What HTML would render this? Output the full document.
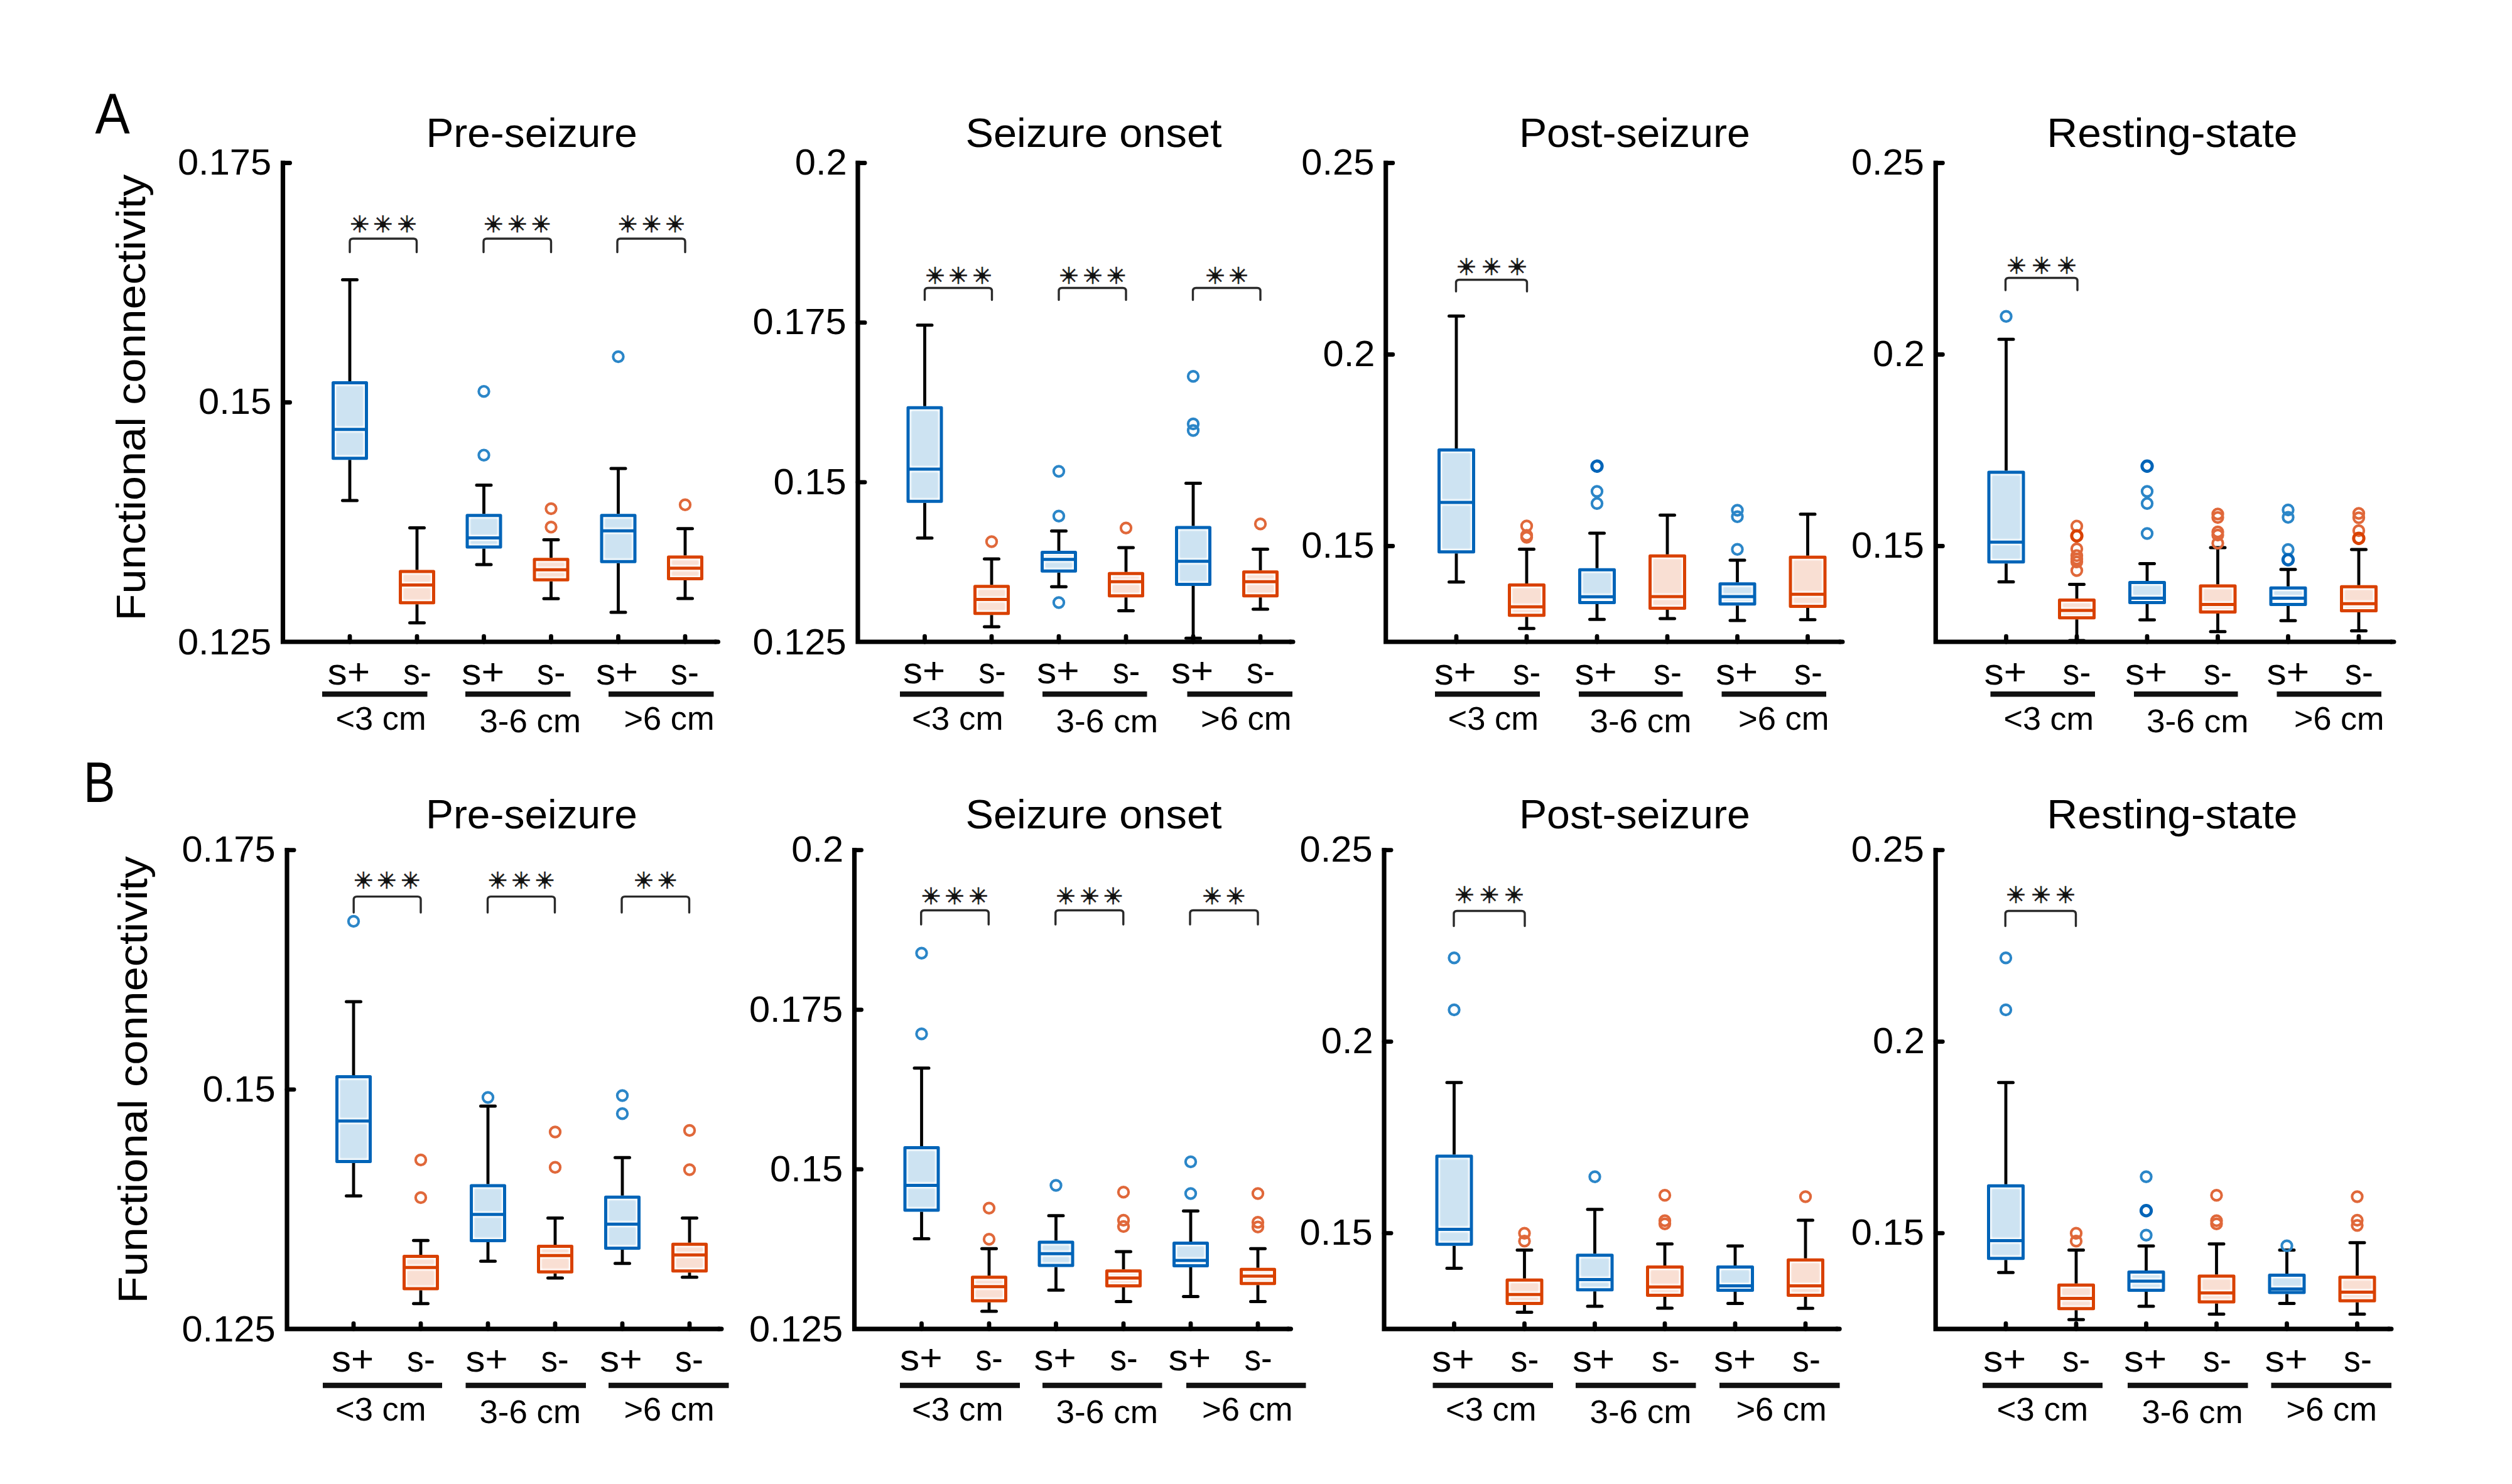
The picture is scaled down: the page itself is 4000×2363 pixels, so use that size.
<!DOCTYPE html>
<html lang="en"><head><meta charset="utf-8"><title>Functional connectivity box plots</title>
<style>
html,body{margin:0;padding:0;background:#fff}
body{width:4000px;height:2363px;overflow:hidden}
svg{display:block}
text{font-family:"Liberation Sans", sans-serif;fill:#000}
.st{font-family:"DejaVu Sans", sans-serif;font-size:37px;fill:#222;stroke:#222;stroke-width:0.7px;text-anchor:middle;dominant-baseline:central}
</style></head><body>
<svg width="4000" height="2363" viewBox="0 0 4000 2363">
<defs><filter id="bl" x="-20%" y="-20%" width="140%" height="140%"><feGaussianBlur stdDeviation="1.3"/></filter></defs>
<rect width="4000" height="2363" fill="#fff"/>
<g id="A1">
<path d="M557 445.5V607M557 732.3V797" stroke="#000" stroke-width="4.8" fill="none"/>
<path d="M545.5 445.5H568.5M545.5 797H568.5" stroke="#000" stroke-width="5" stroke-linecap="round" fill="none"/>
<rect x="530.5" y="609.5" width="53" height="120.3" fill="#fff"/>
<rect x="535.2" y="614.2" width="43.6" height="64.8" rx="2" fill="#cde3f2" filter="url(#bl)"/>
<rect x="535.2" y="688.4" width="43.6" height="36.7" rx="2" fill="#cde3f2" filter="url(#bl)"/>
<rect x="530.5" y="609.5" width="53" height="120.3" fill="none" stroke="#0064b8" stroke-width="5" stroke-linejoin="round"/>
<path d="M530.5 683.7H583.5" stroke="#0064b8" stroke-width="5"/>
<path d="M664 840.5V907.5M664 962.3V991.7" stroke="#000" stroke-width="4.8" fill="none"/>
<path d="M652.5 840.5H675.5M652.5 991.7H675.5" stroke="#000" stroke-width="5" stroke-linecap="round" fill="none"/>
<rect x="637.5" y="910" width="53" height="49.8" fill="#fff"/>
<rect x="642.2" y="914.7" width="43.6" height="12.1" rx="2" fill="#f9dfd3" filter="url(#bl)"/>
<rect x="642.2" y="936.2" width="43.6" height="18.9" rx="2" fill="#f9dfd3" filter="url(#bl)"/>
<rect x="637.5" y="910" width="53" height="49.8" fill="none" stroke="#d94100" stroke-width="5" stroke-linejoin="round"/>
<path d="M637.5 931.5H690.5" stroke="#d94100" stroke-width="5"/>
<path d="M770.5 772.6V818.3M770.5 873.6V899" stroke="#000" stroke-width="4.8" fill="none"/>
<path d="M759 772.6H782M759 899H782" stroke="#000" stroke-width="5" stroke-linecap="round" fill="none"/>
<rect x="744" y="820.8" width="53" height="50.3" fill="#fff"/>
<rect x="748.7" y="825.5" width="43.6" height="26.2" rx="2" fill="#cde3f2" filter="url(#bl)"/>
<rect x="748.7" y="861.1" width="43.6" height="5.3" rx="2" fill="#cde3f2" filter="url(#bl)"/>
<rect x="744" y="820.8" width="53" height="50.3" fill="none" stroke="#0064b8" stroke-width="5" stroke-linejoin="round"/>
<path d="M744 856.4H797" stroke="#0064b8" stroke-width="5"/>
<circle cx="770.5" cy="623.2" r="8.15" fill="none" stroke="#2b86c8" stroke-width="4.1"/>
<circle cx="770.5" cy="724.7" r="8.15" fill="none" stroke="#2b86c8" stroke-width="4.1"/>
<path d="M877.5 859.4V888.2M877.5 925.8V953.2" stroke="#000" stroke-width="4.8" fill="none"/>
<path d="M866 859.4H889M866 953.2H889" stroke="#000" stroke-width="5" stroke-linecap="round" fill="none"/>
<rect x="851" y="890.7" width="53" height="32.6" fill="#fff"/>
<rect x="855.7" y="895.4" width="43.6" height="7.1" rx="2" fill="#f9dfd3" filter="url(#bl)"/>
<rect x="855.7" y="911.9" width="43.6" height="6.7" rx="2" fill="#f9dfd3" filter="url(#bl)"/>
<rect x="851" y="890.7" width="53" height="32.6" fill="none" stroke="#d94100" stroke-width="5" stroke-linejoin="round"/>
<path d="M851 907.2H904" stroke="#d94100" stroke-width="5"/>
<circle cx="877.5" cy="810" r="8.15" fill="none" stroke="#e0683a" stroke-width="4.1"/>
<circle cx="877.5" cy="839.3" r="8.15" fill="none" stroke="#e0683a" stroke-width="4.1"/>
<path d="M984.5 746V818.2M984.5 896.8V975" stroke="#000" stroke-width="4.8" fill="none"/>
<path d="M973 746H996M973 975H996" stroke="#000" stroke-width="5" stroke-linecap="round" fill="none"/>
<rect x="958" y="820.7" width="53" height="73.6" fill="#fff"/>
<rect x="962.7" y="825.4" width="43.6" height="15.1" rx="2" fill="#cde3f2" filter="url(#bl)"/>
<rect x="962.7" y="849.9" width="43.6" height="39.7" rx="2" fill="#cde3f2" filter="url(#bl)"/>
<rect x="958" y="820.7" width="53" height="73.6" fill="none" stroke="#0064b8" stroke-width="5" stroke-linejoin="round"/>
<path d="M958 845.2H1011" stroke="#0064b8" stroke-width="5"/>
<circle cx="984.5" cy="568" r="8.15" fill="none" stroke="#2b86c8" stroke-width="4.1"/>
<path d="M1091 841.7V884.6M1091 924.1V953" stroke="#000" stroke-width="4.8" fill="none"/>
<path d="M1079.5 841.7H1102.5M1079.5 953H1102.5" stroke="#000" stroke-width="5" stroke-linecap="round" fill="none"/>
<rect x="1064.5" y="887.1" width="53" height="34.5" fill="#fff"/>
<rect x="1069.2" y="891.8" width="43.6" height="8.2" rx="2" fill="#f9dfd3" filter="url(#bl)"/>
<rect x="1069.2" y="909.4" width="43.6" height="7.5" rx="2" fill="#f9dfd3" filter="url(#bl)"/>
<rect x="1064.5" y="887.1" width="53" height="34.5" fill="none" stroke="#d94100" stroke-width="5" stroke-linejoin="round"/>
<path d="M1064.5 904.7H1117.5" stroke="#d94100" stroke-width="5"/>
<circle cx="1091" cy="803.8" r="8.15" fill="none" stroke="#e0683a" stroke-width="4.1"/>
<path d="M450.5 255.8V1022H1141" stroke="#000" stroke-width="7.2" fill="none" stroke-linejoin="miter"/>
<path d="M1139 1022H1143.4" stroke="#000" stroke-width="7.2" fill="none" stroke-linecap="round"/>
<path d="M450.5 259.5H461.6M450.5 640.75H461.6" stroke="#000" stroke-width="6.8" stroke-linecap="round" fill="none"/>
<path d="M557 1022V1013.2M664 1022V1013.2M770.5 1022V1013.2M877.5 1022V1013.2M984.5 1022V1013.2M1091 1022V1013.2" stroke="#000" stroke-width="6.8" stroke-linecap="round" fill="none"/>
<text transform="translate(282.92 278.2) scale(1.0430 1)" font-size="57.2">0.175</text>
<text transform="translate(316.09 659.45) scale(1.0430 1)" font-size="57.2">0.15</text>
<text transform="translate(282.92 1041.8) scale(1.0430 1)" font-size="57.2">0.125</text>
<text transform="translate(678.48 233.5) scale(1.0047 1)" font-size="65.5">Pre-seizure</text>
<path d="M557 401.5V385Q557 380 562 380H658.5Q663.5 380 663.5 385V401.5" stroke="#2a2a2a" stroke-width="3.4" fill="none" stroke-linecap="round"/>
<text x="572.7" y="357.5" class="st">✳</text><rect x="568.2" y="353" width="9" height="9" rx="2.5" fill="#111"/>
<text x="609.7" y="357.5" class="st">✳</text><rect x="605.2" y="353" width="9" height="9" rx="2.5" fill="#111"/>
<text x="647.9" y="357.5" class="st">✳</text><rect x="643.4" y="353" width="9" height="9" rx="2.5" fill="#111"/>
<path d="M770 401.5V385Q770 380 775 380H872.5Q877.5 380 877.5 385V401.5" stroke="#2a2a2a" stroke-width="3.4" fill="none" stroke-linecap="round"/>
<text x="785.75" y="357.5" class="st">✳</text><rect x="781.25" y="353" width="9" height="9" rx="2.5" fill="#111"/>
<text x="823.75" y="357.5" class="st">✳</text><rect x="819.25" y="353" width="9" height="9" rx="2.5" fill="#111"/>
<text x="861.5" y="357.5" class="st">✳</text><rect x="857" y="353" width="9" height="9" rx="2.5" fill="#111"/>
<path d="M983 401.5V385Q983 380 988 380H1086Q1091 380 1091 385V401.5" stroke="#2a2a2a" stroke-width="3.4" fill="none" stroke-linecap="round"/>
<text x="999.5" y="357.5" class="st">✳</text><rect x="995" y="353" width="9" height="9" rx="2.5" fill="#111"/>
<text x="1037.5" y="357.5" class="st">✳</text><rect x="1033" y="353" width="9" height="9" rx="2.5" fill="#111"/>
<text x="1075" y="357.5" class="st">✳</text><rect x="1070.5" y="353" width="9" height="9" rx="2.5" fill="#111"/>
<text transform="translate(521.46 1089.5) scale(1.0403 1)" font-size="60">s+</text>
<text transform="translate(642.11 1089.5) scale(0.8936 1)" font-size="60">s-</text>
<text transform="translate(734.95 1089.5) scale(1.0484 1)" font-size="60">s+</text>
<text transform="translate(855.1 1089.5) scale(0.9043 1)" font-size="60">s-</text>
<text transform="translate(948.97 1089.5) scale(1.0323 1)" font-size="60">s+</text>
<text transform="translate(1068.11 1089.5) scale(0.8936 1)" font-size="60">s-</text>
<path d="M513 1105.3H680.5M741 1105.3H908.5M969 1105.3H1136.5" stroke="#111" stroke-width="8.6" fill="none"/>
<text transform="translate(534.45 1162) scale(1.0271 1)" font-size="51">&lt;3 cm</text>
<text transform="translate(763.46 1165.5) scale(1.0369 1)" font-size="51">3-6 cm</text>
<text transform="translate(993.45 1162) scale(1.0271 1)" font-size="51">&gt;6 cm</text>
</g>
<g id="A2">
<path d="M1472.5 517.7V646.7M1472.5 800.75V856.75" stroke="#000" stroke-width="4.8" fill="none"/>
<path d="M1461 517.7H1484M1461 856.75H1484" stroke="#000" stroke-width="5" stroke-linecap="round" fill="none"/>
<rect x="1446" y="649.2" width="53" height="149.05" fill="#fff"/>
<rect x="1450.7" y="653.9" width="43.6" height="88.4" rx="2" fill="#cde3f2" filter="url(#bl)"/>
<rect x="1450.7" y="751.7" width="43.6" height="41.85" rx="2" fill="#cde3f2" filter="url(#bl)"/>
<rect x="1446" y="649.2" width="53" height="149.05" fill="none" stroke="#0064b8" stroke-width="5" stroke-linejoin="round"/>
<path d="M1446 747H1499" stroke="#0064b8" stroke-width="5"/>
<path d="M1579 890V931.25M1579 979.25V998" stroke="#000" stroke-width="4.8" fill="none"/>
<path d="M1567.5 890H1590.5M1567.5 998H1590.5" stroke="#000" stroke-width="5" stroke-linecap="round" fill="none"/>
<rect x="1552.5" y="933.75" width="53" height="43" fill="#fff"/>
<rect x="1557.2" y="938.45" width="43.6" height="11.35" rx="2" fill="#f9dfd3" filter="url(#bl)"/>
<rect x="1557.2" y="959.2" width="43.6" height="12.85" rx="2" fill="#f9dfd3" filter="url(#bl)"/>
<rect x="1552.5" y="933.75" width="53" height="43" fill="none" stroke="#d94100" stroke-width="5" stroke-linejoin="round"/>
<path d="M1552.5 954.5H1605.5" stroke="#d94100" stroke-width="5"/>
<circle cx="1579" cy="862.5" r="8.15" fill="none" stroke="#e0683a" stroke-width="4.1"/>
<path d="M1686 845.5V877M1686 911.75V934.25" stroke="#000" stroke-width="4.8" fill="none"/>
<path d="M1674.5 845.5H1697.5M1674.5 934.25H1697.5" stroke="#000" stroke-width="5" stroke-linecap="round" fill="none"/>
<rect x="1659.5" y="879.5" width="53" height="29.75" fill="#fff"/>
<rect x="1664.2" y="884.2" width="43.6" height="1.85" rx="2" fill="#cde3f2" filter="url(#bl)"/>
<rect x="1664.2" y="895.45" width="43.6" height="9.1" rx="2" fill="#cde3f2" filter="url(#bl)"/>
<rect x="1659.5" y="879.5" width="53" height="29.75" fill="none" stroke="#0064b8" stroke-width="5" stroke-linejoin="round"/>
<path d="M1659.5 890.75H1712.5" stroke="#0064b8" stroke-width="5"/>
<circle cx="1686" cy="750.5" r="8.15" fill="none" stroke="#2b86c8" stroke-width="4.1"/>
<circle cx="1686" cy="821.75" r="8.15" fill="none" stroke="#2b86c8" stroke-width="4.1"/>
<circle cx="1686" cy="959.5" r="8.15" fill="none" stroke="#2b86c8" stroke-width="4.1"/>
<path d="M1793 872V910.75M1793 951.25V972.5" stroke="#000" stroke-width="4.8" fill="none"/>
<path d="M1781.5 872H1804.5M1781.5 972.5H1804.5" stroke="#000" stroke-width="5" stroke-linecap="round" fill="none"/>
<rect x="1766.5" y="913.25" width="53" height="35.5" fill="#fff"/>
<rect x="1771.2" y="917.95" width="43.6" height="3.6" rx="2" fill="#f9dfd3" filter="url(#bl)"/>
<rect x="1771.2" y="930.95" width="43.6" height="13.1" rx="2" fill="#f9dfd3" filter="url(#bl)"/>
<rect x="1766.5" y="913.25" width="53" height="35.5" fill="none" stroke="#d94100" stroke-width="5" stroke-linejoin="round"/>
<path d="M1766.5 926.25H1819.5" stroke="#d94100" stroke-width="5"/>
<circle cx="1793" cy="840.75" r="8.15" fill="none" stroke="#e0683a" stroke-width="4.1"/>
<path d="M1900 769.5V837.5M1900 933V1016.25" stroke="#000" stroke-width="4.8" fill="none"/>
<path d="M1888.5 769.5H1911.5M1888.5 1016.25H1911.5" stroke="#000" stroke-width="5" stroke-linecap="round" fill="none"/>
<rect x="1873.5" y="840" width="53" height="90.5" fill="#fff"/>
<rect x="1878.2" y="844.7" width="43.6" height="44.35" rx="2" fill="#cde3f2" filter="url(#bl)"/>
<rect x="1878.2" y="898.45" width="43.6" height="27.35" rx="2" fill="#cde3f2" filter="url(#bl)"/>
<rect x="1873.5" y="840" width="53" height="90.5" fill="none" stroke="#0064b8" stroke-width="5" stroke-linejoin="round"/>
<path d="M1873.5 893.75H1926.5" stroke="#0064b8" stroke-width="5"/>
<circle cx="1900" cy="599.25" r="8.15" fill="none" stroke="#2b86c8" stroke-width="4.1"/>
<circle cx="1900" cy="675" r="8.15" fill="none" stroke="#2b86c8" stroke-width="4.1"/>
<circle cx="1900" cy="685.5" r="8.15" fill="none" stroke="#2b86c8" stroke-width="4.1"/>
<path d="M2007 874.5V908.25M2007 951.25V970" stroke="#000" stroke-width="4.8" fill="none"/>
<path d="M1995.5 874.5H2018.5M1995.5 970H2018.5" stroke="#000" stroke-width="5" stroke-linecap="round" fill="none"/>
<rect x="1980.5" y="910.75" width="53" height="38" fill="#fff"/>
<rect x="1985.2" y="915.45" width="43.6" height="6.1" rx="2" fill="#f9dfd3" filter="url(#bl)"/>
<rect x="1985.2" y="930.95" width="43.6" height="13.1" rx="2" fill="#f9dfd3" filter="url(#bl)"/>
<rect x="1980.5" y="910.75" width="53" height="38" fill="none" stroke="#d94100" stroke-width="5" stroke-linejoin="round"/>
<path d="M1980.5 926.25H2033.5" stroke="#d94100" stroke-width="5"/>
<circle cx="2007" cy="834.25" r="8.15" fill="none" stroke="#e0683a" stroke-width="4.1"/>
<path d="M1366 255.8V1022H2056.5" stroke="#000" stroke-width="7.2" fill="none" stroke-linejoin="miter"/>
<path d="M2054.5 1022H2058.9" stroke="#000" stroke-width="7.2" fill="none" stroke-linecap="round"/>
<path d="M1366 259.5H1377.1M1366 513.7H1377.1M1366 767.8H1377.1" stroke="#000" stroke-width="6.8" stroke-linecap="round" fill="none"/>
<path d="M1472.5 1022V1013.2M1579 1022V1013.2M1686 1022V1013.2M1793 1022V1013.2M1900 1022V1013.2M2007 1022V1013.2" stroke="#000" stroke-width="6.8" stroke-linecap="round" fill="none"/>
<text transform="translate(1265.81 278.2) scale(1.0430 1)" font-size="57.2">0.2</text>
<text transform="translate(1198.42 532.4) scale(1.0430 1)" font-size="57.2">0.175</text>
<text transform="translate(1231.59 786.5) scale(1.0430 1)" font-size="57.2">0.15</text>
<text transform="translate(1198.42 1041.8) scale(1.0430 1)" font-size="57.2">0.125</text>
<text transform="translate(1537.46 233.5) scale(1.0193 1)" font-size="65.5">Seizure onset</text>
<path d="M1472.5 477.5V463.5Q1472.5 458.5 1477.5 458.5H1574.5Q1579.5 458.5 1579.5 463.5V477.5" stroke="#2a2a2a" stroke-width="3.4" fill="none" stroke-linecap="round"/>
<text x="1489" y="439" class="st">✳</text><rect x="1484.5" y="434.5" width="9" height="9" rx="2.5" fill="#111"/>
<text x="1526" y="439" class="st">✳</text><rect x="1521.5" y="434.5" width="9" height="9" rx="2.5" fill="#111"/>
<text x="1564" y="439" class="st">✳</text><rect x="1559.5" y="434.5" width="9" height="9" rx="2.5" fill="#111"/>
<path d="M1686 477.5V463.5Q1686 458.5 1691 458.5H1788Q1793 458.5 1793 463.5V477.5" stroke="#2a2a2a" stroke-width="3.4" fill="none" stroke-linecap="round"/>
<text x="1702" y="439" class="st">✳</text><rect x="1697.5" y="434.5" width="9" height="9" rx="2.5" fill="#111"/>
<text x="1740" y="439" class="st">✳</text><rect x="1735.5" y="434.5" width="9" height="9" rx="2.5" fill="#111"/>
<text x="1777.5" y="439" class="st">✳</text><rect x="1773" y="434.5" width="9" height="9" rx="2.5" fill="#111"/>
<path d="M1899.5 477.5V463.5Q1899.5 458.5 1904.5 458.5H2002Q2007 458.5 2007 463.5V477.5" stroke="#2a2a2a" stroke-width="3.4" fill="none" stroke-linecap="round"/>
<text x="1935" y="439" class="st">✳</text><rect x="1930.5" y="434.5" width="9" height="9" rx="2.5" fill="#111"/>
<text x="1972" y="439" class="st">✳</text><rect x="1967.5" y="434.5" width="9" height="9" rx="2.5" fill="#111"/>
<text transform="translate(1437.97 1087.8) scale(1.0323 1)" font-size="60">s+</text>
<text transform="translate(1558.13 1087.8) scale(0.8723 1)" font-size="60">s-</text>
<text transform="translate(1650.96 1087.8) scale(1.0403 1)" font-size="60">s+</text>
<text transform="translate(1771.63 1087.8) scale(0.8723 1)" font-size="60">s-</text>
<text transform="translate(1864.97 1087.8) scale(1.0323 1)" font-size="60">s+</text>
<text transform="translate(1985.11 1087.8) scale(0.8936 1)" font-size="60">s-</text>
<path d="M1433 1105.3H1598.5M1660 1105.3H1826.5M1890.5 1105.3H2058" stroke="#111" stroke-width="8.6" fill="none"/>
<text transform="translate(1451.92 1162) scale(1.0382 1)" font-size="51">&lt;3 cm</text>
<text transform="translate(1681.46 1165.5) scale(1.0434 1)" font-size="51">3-6 cm</text>
<text transform="translate(1911.94 1162) scale(1.0308 1)" font-size="51">&gt;6 cm</text>
</g>
<g id="A3">
<path d="M2319 503.2V713.9M2319 881.2V926.75" stroke="#000" stroke-width="4.8" fill="none"/>
<path d="M2307.5 503.2H2330.5M2307.5 926.75H2330.5" stroke="#000" stroke-width="5" stroke-linecap="round" fill="none"/>
<rect x="2291.5" y="716.4" width="55" height="162.3" fill="#fff"/>
<rect x="2296.2" y="721.1" width="45.6" height="74.2" rx="2" fill="#cde3f2" filter="url(#bl)"/>
<rect x="2296.2" y="804.7" width="45.6" height="69.3" rx="2" fill="#cde3f2" filter="url(#bl)"/>
<rect x="2291.5" y="716.4" width="55" height="162.3" fill="none" stroke="#0064b8" stroke-width="5" stroke-linejoin="round"/>
<path d="M2291.5 800H2346.5" stroke="#0064b8" stroke-width="5"/>
<path d="M2431 874.5V929M2431 982.3V1000.7" stroke="#000" stroke-width="4.8" fill="none"/>
<path d="M2419.5 874.5H2442.5M2419.5 1000.7H2442.5" stroke="#000" stroke-width="5" stroke-linecap="round" fill="none"/>
<rect x="2403.5" y="931.5" width="55" height="48.3" fill="#fff"/>
<rect x="2408.2" y="936.2" width="45.6" height="25.4" rx="2" fill="#f9dfd3" filter="url(#bl)"/>
<rect x="2408.2" y="971" width="45.6" height="4.1" rx="2" fill="#f9dfd3" filter="url(#bl)"/>
<rect x="2403.5" y="931.5" width="55" height="48.3" fill="none" stroke="#d94100" stroke-width="5" stroke-linejoin="round"/>
<path d="M2403.5 966.3H2458.5" stroke="#d94100" stroke-width="5"/>
<circle cx="2431" cy="837.5" r="8.15" fill="none" stroke="#e0683a" stroke-width="4.1"/>
<circle cx="2431" cy="852.5" r="8.15" fill="none" stroke="#e0683a" stroke-width="4.1"/>
<circle cx="2431" cy="855.5" r="8.15" fill="none" stroke="#e0683a" stroke-width="4.1"/>
<path d="M2543 849V904.8M2543 962V986.2" stroke="#000" stroke-width="4.8" fill="none"/>
<path d="M2531.5 849H2554.5M2531.5 986.2H2554.5" stroke="#000" stroke-width="5" stroke-linecap="round" fill="none"/>
<rect x="2515.5" y="907.3" width="55" height="52.2" fill="#fff"/>
<rect x="2520.2" y="912" width="45.6" height="33.5" rx="2" fill="#cde3f2" filter="url(#bl)"/>
<rect x="2515.5" y="907.3" width="55" height="52.2" fill="none" stroke="#0064b8" stroke-width="5" stroke-linejoin="round"/>
<path d="M2515.5 950.2H2570.5" stroke="#0064b8" stroke-width="5"/>
<circle cx="2543" cy="742.25" r="8.15" fill="none" stroke="#0064b8" stroke-width="5"/>
<circle cx="2543" cy="782.5" r="8.15" fill="none" stroke="#2b86c8" stroke-width="4.1"/>
<circle cx="2543" cy="801.7" r="8.15" fill="none" stroke="#2b86c8" stroke-width="4.1"/>
<path d="M2655 820.2V882.8M2655 971V985" stroke="#000" stroke-width="4.8" fill="none"/>
<path d="M2643.5 820.2H2666.5M2643.5 985H2666.5" stroke="#000" stroke-width="5" stroke-linecap="round" fill="none"/>
<rect x="2627.5" y="885.3" width="55" height="83.2" fill="#fff"/>
<rect x="2632.2" y="890" width="45.6" height="55.3" rx="2" fill="#f9dfd3" filter="url(#bl)"/>
<rect x="2632.2" y="954.7" width="45.6" height="9.1" rx="2" fill="#f9dfd3" filter="url(#bl)"/>
<rect x="2627.5" y="885.3" width="55" height="83.2" fill="none" stroke="#d94100" stroke-width="5" stroke-linejoin="round"/>
<path d="M2627.5 950H2682.5" stroke="#d94100" stroke-width="5"/>
<path d="M2766.5 892V927.3M2766.5 964.3V988" stroke="#000" stroke-width="4.8" fill="none"/>
<path d="M2755 892H2778M2755 988H2778" stroke="#000" stroke-width="5" stroke-linecap="round" fill="none"/>
<rect x="2739" y="929.8" width="55" height="32" fill="#fff"/>
<rect x="2743.7" y="934.5" width="45.6" height="10.8" rx="2" fill="#cde3f2" filter="url(#bl)"/>
<rect x="2743.7" y="954.7" width="45.6" height="2.4" rx="2" fill="#cde3f2" filter="url(#bl)"/>
<rect x="2739" y="929.8" width="55" height="32" fill="none" stroke="#0064b8" stroke-width="5" stroke-linejoin="round"/>
<path d="M2739 950H2794" stroke="#0064b8" stroke-width="5"/>
<circle cx="2766.5" cy="812.5" r="8.15" fill="none" stroke="#2b86c8" stroke-width="4.1"/>
<circle cx="2766.5" cy="822.8" r="8.15" fill="none" stroke="#2b86c8" stroke-width="4.1"/>
<circle cx="2766.5" cy="874.8" r="8.15" fill="none" stroke="#2b86c8" stroke-width="4.1"/>
<path d="M2878.5 818.8V884.7M2878.5 968V986.7" stroke="#000" stroke-width="4.8" fill="none"/>
<path d="M2867 818.8H2890M2867 986.7H2890" stroke="#000" stroke-width="5" stroke-linecap="round" fill="none"/>
<rect x="2851" y="887.2" width="55" height="78.3" fill="#fff"/>
<rect x="2855.7" y="891.9" width="45.6" height="49.6" rx="2" fill="#f9dfd3" filter="url(#bl)"/>
<rect x="2855.7" y="950.9" width="45.6" height="9.9" rx="2" fill="#f9dfd3" filter="url(#bl)"/>
<rect x="2851" y="887.2" width="55" height="78.3" fill="none" stroke="#d94100" stroke-width="5" stroke-linejoin="round"/>
<path d="M2851 946.2H2906" stroke="#d94100" stroke-width="5"/>
<path d="M2206.7 255.8V1022H2931.5" stroke="#000" stroke-width="7.2" fill="none" stroke-linejoin="miter"/>
<path d="M2929.5 1022H2933.9" stroke="#000" stroke-width="7.2" fill="none" stroke-linecap="round"/>
<path d="M2206.7 259.5H2217.8M2206.7 564.5H2217.8M2206.7 869.5H2217.8" stroke="#000" stroke-width="6.8" stroke-linecap="round" fill="none"/>
<path d="M2319 1022V1013.2M2431 1022V1013.2M2543 1022V1013.2M2655 1022V1013.2M2766.5 1022V1013.2M2878.5 1022V1013.2" stroke="#000" stroke-width="6.8" stroke-linecap="round" fill="none"/>
<text transform="translate(2072.29 278.2) scale(1.0430 1)" font-size="57.2">0.25</text>
<text transform="translate(2106.51 583.2) scale(1.0430 1)" font-size="57.2">0.2</text>
<text transform="translate(2072.29 888.2) scale(1.0430 1)" font-size="57.2">0.15</text>
<text transform="translate(2418.95 233.5) scale(1.0109 1)" font-size="65.5">Post-seizure</text>
<path d="M2318.5 464V450.5Q2318.5 445.5 2323.5 445.5H2426.5Q2431.5 445.5 2431.5 450.5V464" stroke="#2a2a2a" stroke-width="3.4" fill="none" stroke-linecap="round"/>
<text x="2335" y="425" class="st">✳</text><rect x="2330.5" y="420.5" width="9" height="9" rx="2.5" fill="#111"/>
<text x="2375" y="425" class="st">✳</text><rect x="2370.5" y="420.5" width="9" height="9" rx="2.5" fill="#111"/>
<text x="2416" y="425" class="st">✳</text><rect x="2411.5" y="420.5" width="9" height="9" rx="2.5" fill="#111"/>
<text transform="translate(2283.98 1089.5) scale(1.0242 1)" font-size="60">s+</text>
<text transform="translate(2409.12 1089.5) scale(0.8830 1)" font-size="60">s-</text>
<text transform="translate(2507.47 1089.5) scale(1.0323 1)" font-size="60">s+</text>
<text transform="translate(2633.11 1089.5) scale(0.8936 1)" font-size="60">s-</text>
<text transform="translate(2731.97 1089.5) scale(1.0323 1)" font-size="60">s+</text>
<text transform="translate(2857.11 1089.5) scale(0.8936 1)" font-size="60">s-</text>
<path d="M2285 1105.3H2452M2514 1105.3H2679.5M2741.5 1105.3H2908" stroke="#111" stroke-width="8.6" fill="none"/>
<text transform="translate(2305.44 1162) scale(1.0308 1)" font-size="51">&lt;3 cm</text>
<text transform="translate(2531.46 1165.5) scale(1.0402 1)" font-size="51">3-6 cm</text>
<text transform="translate(2767.94 1162) scale(1.0308 1)" font-size="51">&gt;6 cm</text>
</g>
<g id="A4">
<path d="M3194.5 540.3V749.6M3194.5 897.2V926.5" stroke="#000" stroke-width="4.8" fill="none"/>
<path d="M3183 540.3H3206M3183 926.5H3206" stroke="#000" stroke-width="5" stroke-linecap="round" fill="none"/>
<rect x="3167" y="752.1" width="55" height="142.6" fill="#fff"/>
<rect x="3171.7" y="756.8" width="45.6" height="101.8" rx="2" fill="#cde3f2" filter="url(#bl)"/>
<rect x="3171.7" y="868" width="45.6" height="22" rx="2" fill="#cde3f2" filter="url(#bl)"/>
<rect x="3167" y="752.1" width="55" height="142.6" fill="none" stroke="#0064b8" stroke-width="5" stroke-linejoin="round"/>
<path d="M3167 863.3H3222" stroke="#0064b8" stroke-width="5"/>
<circle cx="3194.5" cy="503.8" r="8.15" fill="none" stroke="#2b86c8" stroke-width="4.1"/>
<path d="M3307 930.5V953M3307 986.2V1020" stroke="#000" stroke-width="4.8" fill="none"/>
<path d="M3295.5 930.5H3318.5M3295.5 1020H3318.5" stroke="#000" stroke-width="5" stroke-linecap="round" fill="none"/>
<rect x="3279.5" y="955.5" width="55" height="28.2" fill="#fff"/>
<rect x="3284.2" y="960.2" width="45.6" height="7.1" rx="2" fill="#f9dfd3" filter="url(#bl)"/>
<rect x="3284.2" y="976.7" width="45.6" height="2.3" rx="2" fill="#f9dfd3" filter="url(#bl)"/>
<rect x="3279.5" y="955.5" width="55" height="28.2" fill="none" stroke="#d94100" stroke-width="5" stroke-linejoin="round"/>
<path d="M3279.5 972H3334.5" stroke="#d94100" stroke-width="5"/>
<circle cx="3307" cy="837.7" r="8.15" fill="none" stroke="#e0683a" stroke-width="4.1"/>
<circle cx="3307" cy="853.25" r="8.15" fill="none" stroke="#d94100" stroke-width="5"/>
<circle cx="3307" cy="874" r="8.15" fill="none" stroke="#e0683a" stroke-width="4.1"/>
<circle cx="3307" cy="884.7" r="8.15" fill="none" stroke="#e0683a" stroke-width="4.1"/>
<circle cx="3307" cy="890" r="8.15" fill="none" stroke="#e0683a" stroke-width="4.1"/>
<circle cx="3307" cy="894.8" r="8.15" fill="none" stroke="#e0683a" stroke-width="4.1"/>
<circle cx="3307" cy="908.5" r="8.15" fill="none" stroke="#e0683a" stroke-width="4.1"/>
<path d="M3419 897.5V925M3419 962V987" stroke="#000" stroke-width="4.8" fill="none"/>
<path d="M3407.5 897.5H3430.5M3407.5 987H3430.5" stroke="#000" stroke-width="5" stroke-linecap="round" fill="none"/>
<rect x="3391.5" y="927.5" width="55" height="32" fill="#fff"/>
<rect x="3396.2" y="932.2" width="45.6" height="15.6" rx="2" fill="#cde3f2" filter="url(#bl)"/>
<rect x="3391.5" y="927.5" width="55" height="32" fill="none" stroke="#0064b8" stroke-width="5" stroke-linejoin="round"/>
<path d="M3391.5 952.5H3446.5" stroke="#0064b8" stroke-width="5"/>
<circle cx="3419" cy="742.25" r="8.15" fill="none" stroke="#0064b8" stroke-width="5"/>
<circle cx="3419" cy="782.5" r="8.15" fill="none" stroke="#2b86c8" stroke-width="4.1"/>
<circle cx="3419" cy="801.7" r="8.15" fill="none" stroke="#2b86c8" stroke-width="4.1"/>
<circle cx="3419" cy="849.5" r="8.15" fill="none" stroke="#2b86c8" stroke-width="4.1"/>
<path d="M3531.5 872V930.5M3531.5 977V1005.7" stroke="#000" stroke-width="4.8" fill="none"/>
<path d="M3520 872H3543M3520 1005.7H3543" stroke="#000" stroke-width="5" stroke-linecap="round" fill="none"/>
<rect x="3504" y="933" width="55" height="41.5" fill="#fff"/>
<rect x="3508.7" y="937.7" width="45.6" height="20.1" rx="2" fill="#f9dfd3" filter="url(#bl)"/>
<rect x="3508.7" y="967.2" width="45.6" height="2.6" rx="2" fill="#f9dfd3" filter="url(#bl)"/>
<rect x="3504" y="933" width="55" height="41.5" fill="none" stroke="#d94100" stroke-width="5" stroke-linejoin="round"/>
<path d="M3504 962.5H3559" stroke="#d94100" stroke-width="5"/>
<circle cx="3531.5" cy="818.5" r="8.15" fill="none" stroke="#e0683a" stroke-width="4.1"/>
<circle cx="3531.5" cy="824" r="8.15" fill="none" stroke="#e0683a" stroke-width="4.1"/>
<circle cx="3531.5" cy="847" r="8.15" fill="none" stroke="#e0683a" stroke-width="4.1"/>
<circle cx="3531.5" cy="852" r="8.15" fill="none" stroke="#e0683a" stroke-width="4.1"/>
<circle cx="3531.5" cy="865" r="8.15" fill="none" stroke="#e0683a" stroke-width="4.1"/>
<path d="M3643.5 906.7V933.8M3643.5 965V988.2" stroke="#000" stroke-width="4.8" fill="none"/>
<path d="M3632 906.7H3655M3632 988.2H3655" stroke="#000" stroke-width="5" stroke-linecap="round" fill="none"/>
<rect x="3616" y="936.3" width="55" height="26.2" fill="#fff"/>
<rect x="3620.7" y="941" width="45.6" height="6.8" rx="2" fill="#cde3f2" filter="url(#bl)"/>
<rect x="3620.7" y="957.2" width="45.6" height="0.6" rx="2" fill="#cde3f2" filter="url(#bl)"/>
<rect x="3616" y="936.3" width="55" height="26.2" fill="none" stroke="#0064b8" stroke-width="5" stroke-linejoin="round"/>
<path d="M3616 952.5H3671" stroke="#0064b8" stroke-width="5"/>
<circle cx="3643.5" cy="812" r="8.15" fill="none" stroke="#2b86c8" stroke-width="4.1"/>
<circle cx="3643.5" cy="823.8" r="8.15" fill="none" stroke="#2b86c8" stroke-width="4.1"/>
<circle cx="3643.5" cy="875" r="8.15" fill="none" stroke="#2b86c8" stroke-width="4.1"/>
<circle cx="3643.5" cy="891.25" r="8.15" fill="none" stroke="#0064b8" stroke-width="5"/>
<path d="M3756 875V931.7M3756 975V1004.5" stroke="#000" stroke-width="4.8" fill="none"/>
<path d="M3744.5 875H3767.5M3744.5 1004.5H3767.5" stroke="#000" stroke-width="5" stroke-linecap="round" fill="none"/>
<rect x="3728.5" y="934.2" width="55" height="38.3" fill="#fff"/>
<rect x="3733.2" y="938.9" width="45.6" height="17.7" rx="2" fill="#f9dfd3" filter="url(#bl)"/>
<rect x="3733.2" y="966" width="45.6" height="1.8" rx="2" fill="#f9dfd3" filter="url(#bl)"/>
<rect x="3728.5" y="934.2" width="55" height="38.3" fill="none" stroke="#d94100" stroke-width="5" stroke-linejoin="round"/>
<path d="M3728.5 961.3H3783.5" stroke="#d94100" stroke-width="5"/>
<circle cx="3756" cy="817.5" r="8.15" fill="none" stroke="#e0683a" stroke-width="4.1"/>
<circle cx="3756" cy="824.5" r="8.15" fill="none" stroke="#e0683a" stroke-width="4.1"/>
<circle cx="3756" cy="845" r="8.15" fill="none" stroke="#e0683a" stroke-width="4.1"/>
<circle cx="3756" cy="857.25" r="8.15" fill="none" stroke="#d94100" stroke-width="5"/>
<path d="M3082.3 255.8V1022H3809.5" stroke="#000" stroke-width="7.2" fill="none" stroke-linejoin="miter"/>
<path d="M3807.5 1022H3811.9" stroke="#000" stroke-width="7.2" fill="none" stroke-linecap="round"/>
<path d="M3082.3 259.5H3093.4M3082.3 564.5H3093.4M3082.3 869.5H3093.4" stroke="#000" stroke-width="6.8" stroke-linecap="round" fill="none"/>
<path d="M3194.5 1022V1013.2M3307 1022V1013.2M3419 1022V1013.2M3531.5 1022V1013.2M3643.5 1022V1013.2M3756 1022V1013.2" stroke="#000" stroke-width="6.8" stroke-linecap="round" fill="none"/>
<text transform="translate(2947.89 278.2) scale(1.0430 1)" font-size="57.2">0.25</text>
<text transform="translate(2982.11 583.2) scale(1.0430 1)" font-size="57.2">0.2</text>
<text transform="translate(2947.89 888.2) scale(1.0430 1)" font-size="57.2">0.15</text>
<text transform="translate(3259.33 233.5) scale(1.0344 1)" font-size="65.5">Resting-state</text>
<path d="M3193.5 462V447.5Q3193.5 442.5 3198.5 442.5H3303Q3308 442.5 3308 447.5V462" stroke="#2a2a2a" stroke-width="3.4" fill="none" stroke-linecap="round"/>
<text x="3211" y="423.5" class="st">✳</text><rect x="3206.5" y="419" width="9" height="9" rx="2.5" fill="#111"/>
<text x="3251" y="423.5" class="st">✳</text><rect x="3246.5" y="419" width="9" height="9" rx="2.5" fill="#111"/>
<text x="3291" y="423.5" class="st">✳</text><rect x="3286.5" y="419" width="9" height="9" rx="2.5" fill="#111"/>
<text transform="translate(3159.46 1089.5) scale(1.0403 1)" font-size="60">s+</text>
<text transform="translate(3284.61 1089.5) scale(0.8936 1)" font-size="60">s-</text>
<text transform="translate(3383.97 1089.5) scale(1.0323 1)" font-size="60">s+</text>
<text transform="translate(3509.11 1089.5) scale(0.8936 1)" font-size="60">s-</text>
<text transform="translate(3609.46 1089.5) scale(1.0403 1)" font-size="60">s+</text>
<text transform="translate(3734.11 1089.5) scale(0.8936 1)" font-size="60">s-</text>
<path d="M3169.5 1105.3H3336M3398 1105.3H3563.5M3625.5 1105.3H3792" stroke="#111" stroke-width="8.6" fill="none"/>
<text transform="translate(3190.45 1162) scale(1.0234 1)" font-size="51">&lt;3 cm</text>
<text transform="translate(3417.96 1165.5) scale(1.0434 1)" font-size="51">3-6 cm</text>
<text transform="translate(3652.95 1162) scale(1.0234 1)" font-size="51">&gt;6 cm</text>
</g>
<g id="B1">
<path d="M563 1595V1712M563 1852V1904.25" stroke="#000" stroke-width="4.8" fill="none"/>
<path d="M551.5 1595H574.5M551.5 1904.25H574.5" stroke="#000" stroke-width="5" stroke-linecap="round" fill="none"/>
<rect x="536.5" y="1714.5" width="53" height="135" fill="#fff"/>
<rect x="541.2" y="1719.2" width="43.6" height="61.1" rx="2" fill="#cde3f2" filter="url(#bl)"/>
<rect x="541.2" y="1789.7" width="43.6" height="55.1" rx="2" fill="#cde3f2" filter="url(#bl)"/>
<rect x="536.5" y="1714.5" width="53" height="135" fill="none" stroke="#0064b8" stroke-width="5" stroke-linejoin="round"/>
<path d="M536.5 1785H589.5" stroke="#0064b8" stroke-width="5"/>
<circle cx="563" cy="1467" r="8.15" fill="none" stroke="#2b86c8" stroke-width="4.1"/>
<path d="M670 1975.2V1998M670 2054.5V2075.8" stroke="#000" stroke-width="4.8" fill="none"/>
<path d="M658.5 1975.2H681.5M658.5 2075.8H681.5" stroke="#000" stroke-width="5" stroke-linecap="round" fill="none"/>
<rect x="643.5" y="2000.5" width="53" height="51.5" fill="#fff"/>
<rect x="648.2" y="2005.2" width="43.6" height="8.35" rx="2" fill="#f9dfd3" filter="url(#bl)"/>
<rect x="648.2" y="2022.95" width="43.6" height="24.35" rx="2" fill="#f9dfd3" filter="url(#bl)"/>
<rect x="643.5" y="2000.5" width="53" height="51.5" fill="none" stroke="#d94100" stroke-width="5" stroke-linejoin="round"/>
<path d="M643.5 2018.25H696.5" stroke="#d94100" stroke-width="5"/>
<circle cx="670" cy="1847" r="8.15" fill="none" stroke="#e0683a" stroke-width="4.1"/>
<circle cx="670" cy="1907" r="8.15" fill="none" stroke="#e0683a" stroke-width="4.1"/>
<path d="M777 1761.25V1885.5M777 1978V2008.25" stroke="#000" stroke-width="4.8" fill="none"/>
<path d="M765.5 1761.25H788.5M765.5 2008.25H788.5" stroke="#000" stroke-width="5" stroke-linecap="round" fill="none"/>
<rect x="750.5" y="1888" width="53" height="87.5" fill="#fff"/>
<rect x="755.2" y="1892.7" width="43.6" height="36.35" rx="2" fill="#cde3f2" filter="url(#bl)"/>
<rect x="755.2" y="1938.45" width="43.6" height="32.35" rx="2" fill="#cde3f2" filter="url(#bl)"/>
<rect x="750.5" y="1888" width="53" height="87.5" fill="none" stroke="#0064b8" stroke-width="5" stroke-linejoin="round"/>
<path d="M750.5 1933.75H803.5" stroke="#0064b8" stroke-width="5"/>
<circle cx="777" cy="1747.5" r="8.15" fill="none" stroke="#2b86c8" stroke-width="4.1"/>
<path d="M884 1939.5V1982M884 2027.7V2035" stroke="#000" stroke-width="4.8" fill="none"/>
<path d="M872.5 1939.5H895.5M872.5 2035H895.5" stroke="#000" stroke-width="5" stroke-linecap="round" fill="none"/>
<rect x="857.5" y="1984.5" width="53" height="40.7" fill="#fff"/>
<rect x="862.2" y="1989.2" width="43.6" height="5.35" rx="2" fill="#f9dfd3" filter="url(#bl)"/>
<rect x="862.2" y="2003.95" width="43.6" height="16.55" rx="2" fill="#f9dfd3" filter="url(#bl)"/>
<rect x="857.5" y="1984.5" width="53" height="40.7" fill="none" stroke="#d94100" stroke-width="5" stroke-linejoin="round"/>
<path d="M857.5 1999.25H910.5" stroke="#d94100" stroke-width="5"/>
<circle cx="884" cy="1802.5" r="8.15" fill="none" stroke="#e0683a" stroke-width="4.1"/>
<circle cx="884" cy="1858.75" r="8.15" fill="none" stroke="#e0683a" stroke-width="4.1"/>
<path d="M991 1843.25V1903.75M991 1990V2011.75" stroke="#000" stroke-width="4.8" fill="none"/>
<path d="M979.5 1843.25H1002.5M979.5 2011.75H1002.5" stroke="#000" stroke-width="5" stroke-linecap="round" fill="none"/>
<rect x="964.5" y="1906.25" width="53" height="81.25" fill="#fff"/>
<rect x="969.2" y="1910.95" width="43.6" height="33.6" rx="2" fill="#cde3f2" filter="url(#bl)"/>
<rect x="969.2" y="1953.95" width="43.6" height="28.85" rx="2" fill="#cde3f2" filter="url(#bl)"/>
<rect x="964.5" y="1906.25" width="53" height="81.25" fill="none" stroke="#0064b8" stroke-width="5" stroke-linejoin="round"/>
<path d="M964.5 1949.25H1017.5" stroke="#0064b8" stroke-width="5"/>
<circle cx="991" cy="1744.5" r="8.15" fill="none" stroke="#2b86c8" stroke-width="4.1"/>
<circle cx="991" cy="1773.25" r="8.15" fill="none" stroke="#2b86c8" stroke-width="4.1"/>
<path d="M1098 1939.5V1978.75M1098 2026.25V2033.75" stroke="#000" stroke-width="4.8" fill="none"/>
<path d="M1086.5 1939.5H1109.5M1086.5 2033.75H1109.5" stroke="#000" stroke-width="5" stroke-linecap="round" fill="none"/>
<rect x="1071.5" y="1981.25" width="53" height="42.5" fill="#fff"/>
<rect x="1076.2" y="1985.95" width="43.6" height="7.6" rx="2" fill="#f9dfd3" filter="url(#bl)"/>
<rect x="1076.2" y="2002.95" width="43.6" height="16.1" rx="2" fill="#f9dfd3" filter="url(#bl)"/>
<rect x="1071.5" y="1981.25" width="53" height="42.5" fill="none" stroke="#d94100" stroke-width="5" stroke-linejoin="round"/>
<path d="M1071.5 1998.25H1124.5" stroke="#d94100" stroke-width="5"/>
<circle cx="1098" cy="1800" r="8.15" fill="none" stroke="#e0683a" stroke-width="4.1"/>
<circle cx="1098" cy="1862.5" r="8.15" fill="none" stroke="#e0683a" stroke-width="4.1"/>
<path d="M457 1349.9V2116.1H1146.5" stroke="#000" stroke-width="7.2" fill="none" stroke-linejoin="miter"/>
<path d="M1144.5 2116.1H1148.9" stroke="#000" stroke-width="7.2" fill="none" stroke-linecap="round"/>
<path d="M457 1353.6H468.1M457 1734.85H468.1" stroke="#000" stroke-width="6.8" stroke-linecap="round" fill="none"/>
<path d="M563 2116.1V2107.3M670 2116.1V2107.3M777 2116.1V2107.3M884 2116.1V2107.3M991 2116.1V2107.3M1098 2116.1V2107.3" stroke="#000" stroke-width="6.8" stroke-linecap="round" fill="none"/>
<text transform="translate(289.42 1372.3) scale(1.0430 1)" font-size="57.2">0.175</text>
<text transform="translate(322.59 1753.55) scale(1.0430 1)" font-size="57.2">0.15</text>
<text transform="translate(289.42 2135.9) scale(1.0430 1)" font-size="57.2">0.125</text>
<text transform="translate(677.97 1318.5) scale(1.0062 1)" font-size="65.5">Pre-seizure</text>
<path d="M563.2 1453V1432.6Q563.2 1427.6 568.2 1427.6H665Q670 1427.6 670 1432.6V1453" stroke="#2a2a2a" stroke-width="3.4" fill="none" stroke-linecap="round"/>
<text x="578.75" y="1402.2" class="st">✳</text><rect x="574.25" y="1397.7" width="9" height="9" rx="2.5" fill="#111"/>
<text x="615.75" y="1402.2" class="st">✳</text><rect x="611.25" y="1397.7" width="9" height="9" rx="2.5" fill="#111"/>
<text x="653.75" y="1402.2" class="st">✳</text><rect x="649.25" y="1397.7" width="9" height="9" rx="2.5" fill="#111"/>
<path d="M776.5 1453V1432.6Q776.5 1427.6 781.5 1427.6H878.5Q883.5 1427.6 883.5 1432.6V1453" stroke="#2a2a2a" stroke-width="3.4" fill="none" stroke-linecap="round"/>
<text x="792.5" y="1402.2" class="st">✳</text><rect x="788" y="1397.7" width="9" height="9" rx="2.5" fill="#111"/>
<text x="830" y="1402.2" class="st">✳</text><rect x="825.5" y="1397.7" width="9" height="9" rx="2.5" fill="#111"/>
<text x="867.5" y="1402.2" class="st">✳</text><rect x="863" y="1397.7" width="9" height="9" rx="2.5" fill="#111"/>
<path d="M990 1453V1432.6Q990 1427.6 995 1427.6H1092.5Q1097.5 1427.6 1097.5 1432.6V1453" stroke="#2a2a2a" stroke-width="3.4" fill="none" stroke-linecap="round"/>
<text x="1025" y="1402.2" class="st">✳</text><rect x="1020.5" y="1397.7" width="9" height="9" rx="2.5" fill="#111"/>
<text x="1062.5" y="1402.2" class="st">✳</text><rect x="1058" y="1397.7" width="9" height="9" rx="2.5" fill="#111"/>
<text transform="translate(527.97 2184) scale(1.0323 1)" font-size="60">s+</text>
<text transform="translate(648.11 2184) scale(0.8936 1)" font-size="60">s-</text>
<text transform="translate(741.47 2184) scale(1.0323 1)" font-size="60">s+</text>
<text transform="translate(861.62 2184) scale(0.8830 1)" font-size="60">s-</text>
<text transform="translate(954.96 2184) scale(1.0403 1)" font-size="60">s+</text>
<text transform="translate(1075.11 2184) scale(0.8936 1)" font-size="60">s-</text>
<path d="M514 2206H704M741.5 2206H933M969 2206H1160.5" stroke="#111" stroke-width="8.6" fill="none"/>
<text transform="translate(533.94 2262) scale(1.0308 1)" font-size="51">&lt;3 cm</text>
<text transform="translate(763.46 2265.5) scale(1.0369 1)" font-size="51">3-6 cm</text>
<text transform="translate(993.45 2262) scale(1.0271 1)" font-size="51">&gt;6 cm</text>
</g>
<g id="B2">
<path d="M1467.5 1700.75V1825M1467.5 1929.5V1972.5" stroke="#000" stroke-width="4.8" fill="none"/>
<path d="M1456 1700.75H1479M1456 1972.5H1479" stroke="#000" stroke-width="5" stroke-linecap="round" fill="none"/>
<rect x="1441" y="1827.5" width="53" height="99.5" fill="#fff"/>
<rect x="1445.7" y="1832.2" width="43.6" height="50.6" rx="2" fill="#cde3f2" filter="url(#bl)"/>
<rect x="1445.7" y="1892.2" width="43.6" height="30.1" rx="2" fill="#cde3f2" filter="url(#bl)"/>
<rect x="1441" y="1827.5" width="53" height="99.5" fill="none" stroke="#0064b8" stroke-width="5" stroke-linejoin="round"/>
<path d="M1441 1887.5H1494" stroke="#0064b8" stroke-width="5"/>
<circle cx="1467.5" cy="1517.75" r="8.15" fill="none" stroke="#2b86c8" stroke-width="4.1"/>
<circle cx="1467.5" cy="1646.25" r="8.15" fill="none" stroke="#2b86c8" stroke-width="4.1"/>
<path d="M1575 1988.25V2031.25M1575 2073.75V2088" stroke="#000" stroke-width="4.8" fill="none"/>
<path d="M1563.5 1988.25H1586.5M1563.5 2088H1586.5" stroke="#000" stroke-width="5" stroke-linecap="round" fill="none"/>
<rect x="1548.5" y="2033.75" width="53" height="37.5" fill="#fff"/>
<rect x="1553.2" y="2038.45" width="43.6" height="5.6" rx="2" fill="#f9dfd3" filter="url(#bl)"/>
<rect x="1553.2" y="2053.45" width="43.6" height="13.1" rx="2" fill="#f9dfd3" filter="url(#bl)"/>
<rect x="1548.5" y="2033.75" width="53" height="37.5" fill="none" stroke="#d94100" stroke-width="5" stroke-linejoin="round"/>
<path d="M1548.5 2048.75H1601.5" stroke="#d94100" stroke-width="5"/>
<circle cx="1575" cy="1923.75" r="8.15" fill="none" stroke="#e0683a" stroke-width="4.1"/>
<circle cx="1575" cy="1973.25" r="8.15" fill="none" stroke="#e0683a" stroke-width="4.1"/>
<path d="M1681.5 1935.75V1975.5M1681.5 2017.5V2054.25" stroke="#000" stroke-width="4.8" fill="none"/>
<path d="M1670 1935.75H1693M1670 2054.25H1693" stroke="#000" stroke-width="5" stroke-linecap="round" fill="none"/>
<rect x="1655" y="1978" width="53" height="37" fill="#fff"/>
<rect x="1659.7" y="1982.7" width="43.6" height="8.85" rx="2" fill="#cde3f2" filter="url(#bl)"/>
<rect x="1659.7" y="2000.95" width="43.6" height="9.35" rx="2" fill="#cde3f2" filter="url(#bl)"/>
<rect x="1655" y="1978" width="53" height="37" fill="none" stroke="#0064b8" stroke-width="5" stroke-linejoin="round"/>
<path d="M1655 1996.25H1708" stroke="#0064b8" stroke-width="5"/>
<circle cx="1681.5" cy="1887.5" r="8.15" fill="none" stroke="#2b86c8" stroke-width="4.1"/>
<path d="M1789 1993V2021.25M1789 2050V2072.5" stroke="#000" stroke-width="4.8" fill="none"/>
<path d="M1777.5 1993H1800.5M1777.5 2072.5H1800.5" stroke="#000" stroke-width="5" stroke-linecap="round" fill="none"/>
<rect x="1762.5" y="2023.75" width="53" height="23.75" fill="#fff"/>
<rect x="1767.2" y="2028.45" width="43.6" height="1.85" rx="2" fill="#f9dfd3" filter="url(#bl)"/>
<rect x="1767.2" y="2039.7" width="43.6" height="3.1" rx="2" fill="#f9dfd3" filter="url(#bl)"/>
<rect x="1762.5" y="2023.75" width="53" height="23.75" fill="none" stroke="#d94100" stroke-width="5" stroke-linejoin="round"/>
<path d="M1762.5 2035H1815.5" stroke="#d94100" stroke-width="5"/>
<circle cx="1789" cy="1898.25" r="8.15" fill="none" stroke="#e0683a" stroke-width="4.1"/>
<circle cx="1789" cy="1943" r="8.15" fill="none" stroke="#e0683a" stroke-width="4.1"/>
<circle cx="1789" cy="1953" r="8.15" fill="none" stroke="#e0683a" stroke-width="4.1"/>
<path d="M1896 1928.25V1977M1896 2018V2064.5" stroke="#000" stroke-width="4.8" fill="none"/>
<path d="M1884.5 1928.25H1907.5M1884.5 2064.5H1907.5" stroke="#000" stroke-width="5" stroke-linecap="round" fill="none"/>
<rect x="1869.5" y="1979.5" width="53" height="36" fill="#fff"/>
<rect x="1874.2" y="1984.2" width="43.6" height="18.1" rx="2" fill="#cde3f2" filter="url(#bl)"/>
<rect x="1869.5" y="1979.5" width="53" height="36" fill="none" stroke="#0064b8" stroke-width="5" stroke-linejoin="round"/>
<path d="M1869.5 2007H1922.5" stroke="#0064b8" stroke-width="5"/>
<circle cx="1896" cy="1850" r="8.15" fill="none" stroke="#2b86c8" stroke-width="4.1"/>
<circle cx="1896" cy="1900.5" r="8.15" fill="none" stroke="#2b86c8" stroke-width="4.1"/>
<path d="M2003 1988.25V2018.75M2003 2046.25V2072.5" stroke="#000" stroke-width="4.8" fill="none"/>
<path d="M1991.5 1988.25H2014.5M1991.5 2072.5H2014.5" stroke="#000" stroke-width="5" stroke-linecap="round" fill="none"/>
<rect x="1976.5" y="2021.25" width="53" height="22.5" fill="#fff"/>
<rect x="1981.2" y="2025.95" width="43.6" height="1.35" rx="2" fill="#f9dfd3" filter="url(#bl)"/>
<rect x="1981.2" y="2036.7" width="43.6" height="2.35" rx="2" fill="#f9dfd3" filter="url(#bl)"/>
<rect x="1976.5" y="2021.25" width="53" height="22.5" fill="none" stroke="#d94100" stroke-width="5" stroke-linejoin="round"/>
<path d="M1976.5 2032H2029.5" stroke="#d94100" stroke-width="5"/>
<circle cx="2003" cy="1900.5" r="8.15" fill="none" stroke="#e0683a" stroke-width="4.1"/>
<circle cx="2003" cy="1946.25" r="8.15" fill="none" stroke="#e0683a" stroke-width="4.1"/>
<circle cx="2003" cy="1953.75" r="8.15" fill="none" stroke="#e0683a" stroke-width="4.1"/>
<path d="M1360.5 1349.9V2116.1H2053" stroke="#000" stroke-width="7.2" fill="none" stroke-linejoin="miter"/>
<path d="M2051 2116.1H2055.4" stroke="#000" stroke-width="7.2" fill="none" stroke-linecap="round"/>
<path d="M1360.5 1353.6H1371.6M1360.5 1607.8H1371.6M1360.5 1861.9H1371.6" stroke="#000" stroke-width="6.8" stroke-linecap="round" fill="none"/>
<path d="M1467.5 2116.1V2107.3M1575 2116.1V2107.3M1681.5 2116.1V2107.3M1789 2116.1V2107.3M1896 2116.1V2107.3M2003 2116.1V2107.3" stroke="#000" stroke-width="6.8" stroke-linecap="round" fill="none"/>
<text transform="translate(1260.31 1372.3) scale(1.0430 1)" font-size="57.2">0.2</text>
<text transform="translate(1192.92 1626.5) scale(1.0430 1)" font-size="57.2">0.175</text>
<text transform="translate(1226.09 1880.6) scale(1.0430 1)" font-size="57.2">0.15</text>
<text transform="translate(1192.92 2135.9) scale(1.0430 1)" font-size="57.2">0.125</text>
<text transform="translate(1537.46 1318.5) scale(1.0193 1)" font-size="65.5">Seizure onset</text>
<path d="M1466.75 1472V1454.5Q1466.75 1449.5 1471.75 1449.5H1569.25Q1574.25 1449.5 1574.25 1454.5V1472" stroke="#2a2a2a" stroke-width="3.4" fill="none" stroke-linecap="round"/>
<text x="1482.5" y="1427.5" class="st">✳</text><rect x="1478" y="1423" width="9" height="9" rx="2.5" fill="#111"/>
<text x="1520" y="1427.5" class="st">✳</text><rect x="1515.5" y="1423" width="9" height="9" rx="2.5" fill="#111"/>
<text x="1558" y="1427.5" class="st">✳</text><rect x="1553.5" y="1423" width="9" height="9" rx="2.5" fill="#111"/>
<path d="M1680.75 1472V1454.5Q1680.75 1449.5 1685.75 1449.5H1783.75Q1788.75 1449.5 1788.75 1454.5V1472" stroke="#2a2a2a" stroke-width="3.4" fill="none" stroke-linecap="round"/>
<text x="1697" y="1427.5" class="st">✳</text><rect x="1692.5" y="1423" width="9" height="9" rx="2.5" fill="#111"/>
<text x="1735" y="1427.5" class="st">✳</text><rect x="1730.5" y="1423" width="9" height="9" rx="2.5" fill="#111"/>
<text x="1772.5" y="1427.5" class="st">✳</text><rect x="1768" y="1423" width="9" height="9" rx="2.5" fill="#111"/>
<path d="M1895 1472V1454.5Q1895 1449.5 1900 1449.5H1998Q2003 1449.5 2003 1454.5V1472" stroke="#2a2a2a" stroke-width="3.4" fill="none" stroke-linecap="round"/>
<text x="1930" y="1427.5" class="st">✳</text><rect x="1925.5" y="1423" width="9" height="9" rx="2.5" fill="#111"/>
<text x="1967.5" y="1427.5" class="st">✳</text><rect x="1963" y="1423" width="9" height="9" rx="2.5" fill="#111"/>
<text transform="translate(1432.96 2182) scale(1.0403 1)" font-size="60">s+</text>
<text transform="translate(1553.13 2182) scale(0.8723 1)" font-size="60">s-</text>
<text transform="translate(1646.47 2182) scale(1.0323 1)" font-size="60">s+</text>
<text transform="translate(1767.62 2182) scale(0.8830 1)" font-size="60">s-</text>
<text transform="translate(1860.46 2182) scale(1.0403 1)" font-size="60">s+</text>
<text transform="translate(1981.62 2182) scale(0.8830 1)" font-size="60">s-</text>
<path d="M1433 2206H1624M1660 2206H1850.5M1889 2206H2079.5" stroke="#111" stroke-width="8.6" fill="none"/>
<text transform="translate(1451.92 2262) scale(1.0382 1)" font-size="51">&lt;3 cm</text>
<text transform="translate(1681.46 2265.5) scale(1.0434 1)" font-size="51">3-6 cm</text>
<text transform="translate(1913.94 2262) scale(1.0308 1)" font-size="51">&gt;6 cm</text>
</g>
<g id="B3">
<path d="M2315.5 1723.75V1838.4M2315.5 1983.8V2019.5" stroke="#000" stroke-width="4.8" fill="none"/>
<path d="M2304 1723.75H2327M2304 2019.5H2327" stroke="#000" stroke-width="5" stroke-linecap="round" fill="none"/>
<rect x="2288" y="1840.9" width="55" height="140.4" fill="#fff"/>
<rect x="2292.7" y="1845.6" width="45.6" height="107.2" rx="2" fill="#cde3f2" filter="url(#bl)"/>
<rect x="2292.7" y="1962.2" width="45.6" height="14.4" rx="2" fill="#cde3f2" filter="url(#bl)"/>
<rect x="2288" y="1840.9" width="55" height="140.4" fill="none" stroke="#0064b8" stroke-width="5" stroke-linejoin="round"/>
<path d="M2288 1957.5H2343" stroke="#0064b8" stroke-width="5"/>
<circle cx="2315.5" cy="1525.25" r="8.15" fill="none" stroke="#2b86c8" stroke-width="4.1"/>
<circle cx="2315.5" cy="1608" r="8.15" fill="none" stroke="#2b86c8" stroke-width="4.1"/>
<path d="M2427.5 1990.5V2035.75M2427.5 2078V2089.5" stroke="#000" stroke-width="4.8" fill="none"/>
<path d="M2416 1990.5H2439M2416 2089.5H2439" stroke="#000" stroke-width="5" stroke-linecap="round" fill="none"/>
<rect x="2400" y="2038.25" width="55" height="37.25" fill="#fff"/>
<rect x="2404.7" y="2042.95" width="45.6" height="13.6" rx="2" fill="#f9dfd3" filter="url(#bl)"/>
<rect x="2404.7" y="2065.95" width="45.6" height="4.85" rx="2" fill="#f9dfd3" filter="url(#bl)"/>
<rect x="2400" y="2038.25" width="55" height="37.25" fill="none" stroke="#d94100" stroke-width="5" stroke-linejoin="round"/>
<path d="M2400 2061.25H2455" stroke="#d94100" stroke-width="5"/>
<circle cx="2427.5" cy="1963.75" r="8.15" fill="none" stroke="#e0683a" stroke-width="4.1"/>
<circle cx="2427.5" cy="1976.25" r="8.15" fill="none" stroke="#e0683a" stroke-width="4.1"/>
<path d="M2539.5 1925.75V1996.25M2539.5 2056.25V2080" stroke="#000" stroke-width="4.8" fill="none"/>
<path d="M2528 1925.75H2551M2528 2080H2551" stroke="#000" stroke-width="5" stroke-linecap="round" fill="none"/>
<rect x="2512" y="1998.75" width="55" height="55" fill="#fff"/>
<rect x="2516.7" y="2003.45" width="45.6" height="29.35" rx="2" fill="#cde3f2" filter="url(#bl)"/>
<rect x="2516.7" y="2042.2" width="45.6" height="6.85" rx="2" fill="#cde3f2" filter="url(#bl)"/>
<rect x="2512" y="1998.75" width="55" height="55" fill="none" stroke="#0064b8" stroke-width="5" stroke-linejoin="round"/>
<path d="M2512 2037.5H2567" stroke="#0064b8" stroke-width="5"/>
<circle cx="2539.5" cy="1873.75" r="8.15" fill="none" stroke="#2b86c8" stroke-width="4.1"/>
<path d="M2651 1980.75V2015M2651 2065V2083" stroke="#000" stroke-width="4.8" fill="none"/>
<path d="M2639.5 1980.75H2662.5M2639.5 2083H2662.5" stroke="#000" stroke-width="5" stroke-linecap="round" fill="none"/>
<rect x="2623.5" y="2017.5" width="55" height="45" fill="#fff"/>
<rect x="2628.2" y="2022.2" width="45.6" height="22.35" rx="2" fill="#f9dfd3" filter="url(#bl)"/>
<rect x="2628.2" y="2053.95" width="45.6" height="3.85" rx="2" fill="#f9dfd3" filter="url(#bl)"/>
<rect x="2623.5" y="2017.5" width="55" height="45" fill="none" stroke="#d94100" stroke-width="5" stroke-linejoin="round"/>
<path d="M2623.5 2049.25H2678.5" stroke="#d94100" stroke-width="5"/>
<circle cx="2651" cy="1903.25" r="8.15" fill="none" stroke="#e0683a" stroke-width="4.1"/>
<circle cx="2651" cy="1943.75" r="8.15" fill="none" stroke="#e0683a" stroke-width="4.1"/>
<circle cx="2651" cy="1948.75" r="8.15" fill="none" stroke="#e0683a" stroke-width="4.1"/>
<path d="M2763 1984V2015M2763 2057V2075.5" stroke="#000" stroke-width="4.8" fill="none"/>
<path d="M2751.5 1984H2774.5M2751.5 2075.5H2774.5" stroke="#000" stroke-width="5" stroke-linecap="round" fill="none"/>
<rect x="2735.5" y="2017.5" width="55" height="37" fill="#fff"/>
<rect x="2740.2" y="2022.2" width="45.6" height="20.6" rx="2" fill="#cde3f2" filter="url(#bl)"/>
<rect x="2735.5" y="2017.5" width="55" height="37" fill="none" stroke="#0064b8" stroke-width="5" stroke-linejoin="round"/>
<path d="M2735.5 2047.5H2790.5" stroke="#0064b8" stroke-width="5"/>
<path d="M2875 1943V2003.75M2875 2065V2083.25" stroke="#000" stroke-width="4.8" fill="none"/>
<path d="M2863.5 1943H2886.5M2863.5 2083.25H2886.5" stroke="#000" stroke-width="5" stroke-linecap="round" fill="none"/>
<rect x="2847.5" y="2006.25" width="55" height="56.25" fill="#fff"/>
<rect x="2852.2" y="2010.95" width="45.6" height="31.85" rx="2" fill="#f9dfd3" filter="url(#bl)"/>
<rect x="2852.2" y="2052.2" width="45.6" height="5.6" rx="2" fill="#f9dfd3" filter="url(#bl)"/>
<rect x="2847.5" y="2006.25" width="55" height="56.25" fill="none" stroke="#d94100" stroke-width="5" stroke-linejoin="round"/>
<path d="M2847.5 2047.5H2902.5" stroke="#d94100" stroke-width="5"/>
<circle cx="2875" cy="1905.5" r="8.15" fill="none" stroke="#e0683a" stroke-width="4.1"/>
<path d="M2204 1349.9V2116.1H2926.7" stroke="#000" stroke-width="7.2" fill="none" stroke-linejoin="miter"/>
<path d="M2924.7 2116.1H2929.1" stroke="#000" stroke-width="7.2" fill="none" stroke-linecap="round"/>
<path d="M2204 1353.6H2215.1M2204 1658.6H2215.1M2204 1963.6H2215.1" stroke="#000" stroke-width="6.8" stroke-linecap="round" fill="none"/>
<path d="M2315.5 2116.1V2107.3M2427.5 2116.1V2107.3M2539.5 2116.1V2107.3M2651 2116.1V2107.3M2763 2116.1V2107.3M2875 2116.1V2107.3" stroke="#000" stroke-width="6.8" stroke-linecap="round" fill="none"/>
<text transform="translate(2069.59 1372.3) scale(1.0430 1)" font-size="57.2">0.25</text>
<text transform="translate(2103.81 1677.3) scale(1.0430 1)" font-size="57.2">0.2</text>
<text transform="translate(2069.59 1982.3) scale(1.0430 1)" font-size="57.2">0.15</text>
<text transform="translate(2418.95 1318.5) scale(1.0109 1)" font-size="65.5">Post-seizure</text>
<path d="M2315 1474.5V1455.5Q2315 1450.5 2320 1450.5H2423Q2428 1450.5 2428 1455.5V1474.5" stroke="#2a2a2a" stroke-width="3.4" fill="none" stroke-linecap="round"/>
<text x="2332" y="1425" class="st">✳</text><rect x="2327.5" y="1420.5" width="9" height="9" rx="2.5" fill="#111"/>
<text x="2371.5" y="1425" class="st">✳</text><rect x="2367" y="1420.5" width="9" height="9" rx="2.5" fill="#111"/>
<text x="2411" y="1425" class="st">✳</text><rect x="2406.5" y="1420.5" width="9" height="9" rx="2.5" fill="#111"/>
<text transform="translate(2279.96 2184) scale(1.0403 1)" font-size="60">s+</text>
<text transform="translate(2405.61 2184) scale(0.8936 1)" font-size="60">s-</text>
<text transform="translate(2503.97 2184) scale(1.0323 1)" font-size="60">s+</text>
<text transform="translate(2630.11 2184) scale(0.8936 1)" font-size="60">s-</text>
<text transform="translate(2728.97 2184) scale(1.0323 1)" font-size="60">s+</text>
<text transform="translate(2854.11 2184) scale(0.8936 1)" font-size="60">s-</text>
<path d="M2281.5 2206H2473M2509 2206H2700.5M2738 2206H2929.5" stroke="#111" stroke-width="8.6" fill="none"/>
<text transform="translate(2301.94 2262) scale(1.0308 1)" font-size="51">&lt;3 cm</text>
<text transform="translate(2531.46 2265.5) scale(1.0402 1)" font-size="51">3-6 cm</text>
<text transform="translate(2764.45 2262) scale(1.0271 1)" font-size="51">&gt;6 cm</text>
</g>
<g id="B4">
<path d="M3194 1723.75V1885.7M3194 2006.3V2026.3" stroke="#000" stroke-width="4.8" fill="none"/>
<path d="M3182.5 1723.75H3205.5M3182.5 2026.3H3205.5" stroke="#000" stroke-width="5" stroke-linecap="round" fill="none"/>
<rect x="3166.5" y="1888.2" width="55" height="115.6" fill="#fff"/>
<rect x="3171.2" y="1892.9" width="45.6" height="77.9" rx="2" fill="#cde3f2" filter="url(#bl)"/>
<rect x="3171.2" y="1980.2" width="45.6" height="18.9" rx="2" fill="#cde3f2" filter="url(#bl)"/>
<rect x="3166.5" y="1888.2" width="55" height="115.6" fill="none" stroke="#0064b8" stroke-width="5" stroke-linejoin="round"/>
<path d="M3166.5 1975.5H3221.5" stroke="#0064b8" stroke-width="5"/>
<circle cx="3194" cy="1525.25" r="8.15" fill="none" stroke="#2b86c8" stroke-width="4.1"/>
<circle cx="3194" cy="1608" r="8.15" fill="none" stroke="#2b86c8" stroke-width="4.1"/>
<path d="M3306 1990.5V2043.75M3306 2086.25V2101.25" stroke="#000" stroke-width="4.8" fill="none"/>
<path d="M3294.5 1990.5H3317.5M3294.5 2101.25H3317.5" stroke="#000" stroke-width="5" stroke-linecap="round" fill="none"/>
<rect x="3278.5" y="2046.25" width="55" height="37.5" fill="#fff"/>
<rect x="3283.2" y="2050.95" width="45.6" height="11.85" rx="2" fill="#f9dfd3" filter="url(#bl)"/>
<rect x="3283.2" y="2072.2" width="45.6" height="6.85" rx="2" fill="#f9dfd3" filter="url(#bl)"/>
<rect x="3278.5" y="2046.25" width="55" height="37.5" fill="none" stroke="#d94100" stroke-width="5" stroke-linejoin="round"/>
<path d="M3278.5 2067.5H3333.5" stroke="#d94100" stroke-width="5"/>
<circle cx="3306" cy="1963.75" r="8.15" fill="none" stroke="#e0683a" stroke-width="4.1"/>
<circle cx="3306" cy="1976.25" r="8.15" fill="none" stroke="#e0683a" stroke-width="4.1"/>
<path d="M3417.5 1984V2023M3417.5 2057V2080" stroke="#000" stroke-width="4.8" fill="none"/>
<path d="M3406 1984H3429M3406 2080H3429" stroke="#000" stroke-width="5" stroke-linecap="round" fill="none"/>
<rect x="3390" y="2025.5" width="55" height="29" fill="#fff"/>
<rect x="3394.7" y="2030.2" width="45.6" height="5.1" rx="2" fill="#cde3f2" filter="url(#bl)"/>
<rect x="3394.7" y="2044.7" width="45.6" height="5.1" rx="2" fill="#cde3f2" filter="url(#bl)"/>
<rect x="3390" y="2025.5" width="55" height="29" fill="none" stroke="#0064b8" stroke-width="5" stroke-linejoin="round"/>
<path d="M3390 2040H3445" stroke="#0064b8" stroke-width="5"/>
<circle cx="3417.5" cy="1873.75" r="8.15" fill="none" stroke="#2b86c8" stroke-width="4.1"/>
<circle cx="3417.5" cy="1927.75" r="8.15" fill="none" stroke="#0064b8" stroke-width="5"/>
<circle cx="3417.5" cy="1966.75" r="8.15" fill="none" stroke="#2b86c8" stroke-width="4.1"/>
<path d="M3529.5 1980.75V2029.5M3529.5 2075.5V2092.5" stroke="#000" stroke-width="4.8" fill="none"/>
<path d="M3518 1980.75H3541M3518 2092.5H3541" stroke="#000" stroke-width="5" stroke-linecap="round" fill="none"/>
<rect x="3502" y="2032" width="55" height="41" fill="#fff"/>
<rect x="3506.7" y="2036.7" width="45.6" height="17.35" rx="2" fill="#f9dfd3" filter="url(#bl)"/>
<rect x="3506.7" y="2063.45" width="45.6" height="4.85" rx="2" fill="#f9dfd3" filter="url(#bl)"/>
<rect x="3502" y="2032" width="55" height="41" fill="none" stroke="#d94100" stroke-width="5" stroke-linejoin="round"/>
<path d="M3502 2058.75H3557" stroke="#d94100" stroke-width="5"/>
<circle cx="3529.5" cy="1903.25" r="8.15" fill="none" stroke="#e0683a" stroke-width="4.1"/>
<circle cx="3529.5" cy="1943.75" r="8.15" fill="none" stroke="#e0683a" stroke-width="4.1"/>
<circle cx="3529.5" cy="1948.75" r="8.15" fill="none" stroke="#e0683a" stroke-width="4.1"/>
<path d="M3641.5 1990.5V2028M3641.5 2060.5V2075.5" stroke="#000" stroke-width="4.8" fill="none"/>
<path d="M3630 1990.5H3653M3630 2075.5H3653" stroke="#000" stroke-width="5" stroke-linecap="round" fill="none"/>
<rect x="3614" y="2030.5" width="55" height="27.5" fill="#fff"/>
<rect x="3618.7" y="2035.2" width="45.6" height="12.6" rx="2" fill="#cde3f2" filter="url(#bl)"/>
<rect x="3614" y="2030.5" width="55" height="27.5" fill="none" stroke="#0064b8" stroke-width="5" stroke-linejoin="round"/>
<path d="M3614 2052.5H3669" stroke="#0064b8" stroke-width="5"/>
<circle cx="3641.5" cy="1983.75" r="8.15" fill="none" stroke="#2b86c8" stroke-width="4.1"/>
<path d="M3753.5 1978.75V2031.25M3753.5 2073.75V2092.5" stroke="#000" stroke-width="4.8" fill="none"/>
<path d="M3742 1978.75H3765M3742 2092.5H3765" stroke="#000" stroke-width="5" stroke-linecap="round" fill="none"/>
<rect x="3726" y="2033.75" width="55" height="37.5" fill="#fff"/>
<rect x="3730.7" y="2038.45" width="45.6" height="14.35" rx="2" fill="#f9dfd3" filter="url(#bl)"/>
<rect x="3730.7" y="2062.2" width="45.6" height="4.35" rx="2" fill="#f9dfd3" filter="url(#bl)"/>
<rect x="3726" y="2033.75" width="55" height="37.5" fill="none" stroke="#d94100" stroke-width="5" stroke-linejoin="round"/>
<path d="M3726 2057.5H3781" stroke="#d94100" stroke-width="5"/>
<circle cx="3753.5" cy="1905.5" r="8.15" fill="none" stroke="#e0683a" stroke-width="4.1"/>
<circle cx="3753.5" cy="1943" r="8.15" fill="none" stroke="#e0683a" stroke-width="4.1"/>
<circle cx="3753.5" cy="1951.25" r="8.15" fill="none" stroke="#e0683a" stroke-width="4.1"/>
<path d="M3082.2 1349.9V2116.1H3805.5" stroke="#000" stroke-width="7.2" fill="none" stroke-linejoin="miter"/>
<path d="M3803.5 2116.1H3807.9" stroke="#000" stroke-width="7.2" fill="none" stroke-linecap="round"/>
<path d="M3082.2 1353.6H3093.3M3082.2 1658.6H3093.3M3082.2 1963.6H3093.3" stroke="#000" stroke-width="6.8" stroke-linecap="round" fill="none"/>
<path d="M3194 2116.1V2107.3M3306 2116.1V2107.3M3417.5 2116.1V2107.3M3529.5 2116.1V2107.3M3641.5 2116.1V2107.3M3753.5 2116.1V2107.3" stroke="#000" stroke-width="6.8" stroke-linecap="round" fill="none"/>
<text transform="translate(2947.79 1372.3) scale(1.0430 1)" font-size="57.2">0.25</text>
<text transform="translate(2982.01 1677.3) scale(1.0430 1)" font-size="57.2">0.2</text>
<text transform="translate(2947.79 1982.3) scale(1.0430 1)" font-size="57.2">0.15</text>
<text transform="translate(3259.33 1318.5) scale(1.0344 1)" font-size="65.5">Resting-state</text>
<path d="M3193.25 1474.5V1455.5Q3193.25 1450.5 3198.25 1450.5H3300.5Q3305.5 1450.5 3305.5 1455.5V1474.5" stroke="#2a2a2a" stroke-width="3.4" fill="none" stroke-linecap="round"/>
<text x="3210" y="1425" class="st">✳</text><rect x="3205.5" y="1420.5" width="9" height="9" rx="2.5" fill="#111"/>
<text x="3250" y="1425" class="st">✳</text><rect x="3245.5" y="1420.5" width="9" height="9" rx="2.5" fill="#111"/>
<text x="3289" y="1425" class="st">✳</text><rect x="3284.5" y="1420.5" width="9" height="9" rx="2.5" fill="#111"/>
<text transform="translate(3157.95 2183.5) scale(1.0484 1)" font-size="60">s+</text>
<text transform="translate(3284.12 2183.5) scale(0.8830 1)" font-size="60">s-</text>
<text transform="translate(3381.95 2183.5) scale(1.0484 1)" font-size="60">s+</text>
<text transform="translate(3508.11 2183.5) scale(0.8936 1)" font-size="60">s-</text>
<text transform="translate(3606.45 2183.5) scale(1.0484 1)" font-size="60">s+</text>
<text transform="translate(3732.11 2183.5) scale(0.8936 1)" font-size="60">s-</text>
<path d="M3157 2206H3348M3388 2206H3579.5M3616.5 2206H3808" stroke="#111" stroke-width="8.6" fill="none"/>
<text transform="translate(3179.42 2262) scale(1.0382 1)" font-size="51">&lt;3 cm</text>
<text transform="translate(3410.47 2265.5) scale(1.0336 1)" font-size="51">3-6 cm</text>
<text transform="translate(3640.44 2262) scale(1.0308 1)" font-size="51">&gt;6 cm</text>
</g>
<text transform="translate(151.5 211.7) scale(0.9217 1)" font-size="90">A</text>
<text transform="translate(132.91 1277.3) scale(0.8408 1)" font-size="90">B</text>
<text transform="translate(231 988.41) rotate(-90) scale(1.0811 1)" font-size="65">Functional connectivity</text>
<text transform="translate(234 2075.42) rotate(-90) scale(1.0834 1)" font-size="65">Functional connectivity</text>
</svg>
</body></html>
